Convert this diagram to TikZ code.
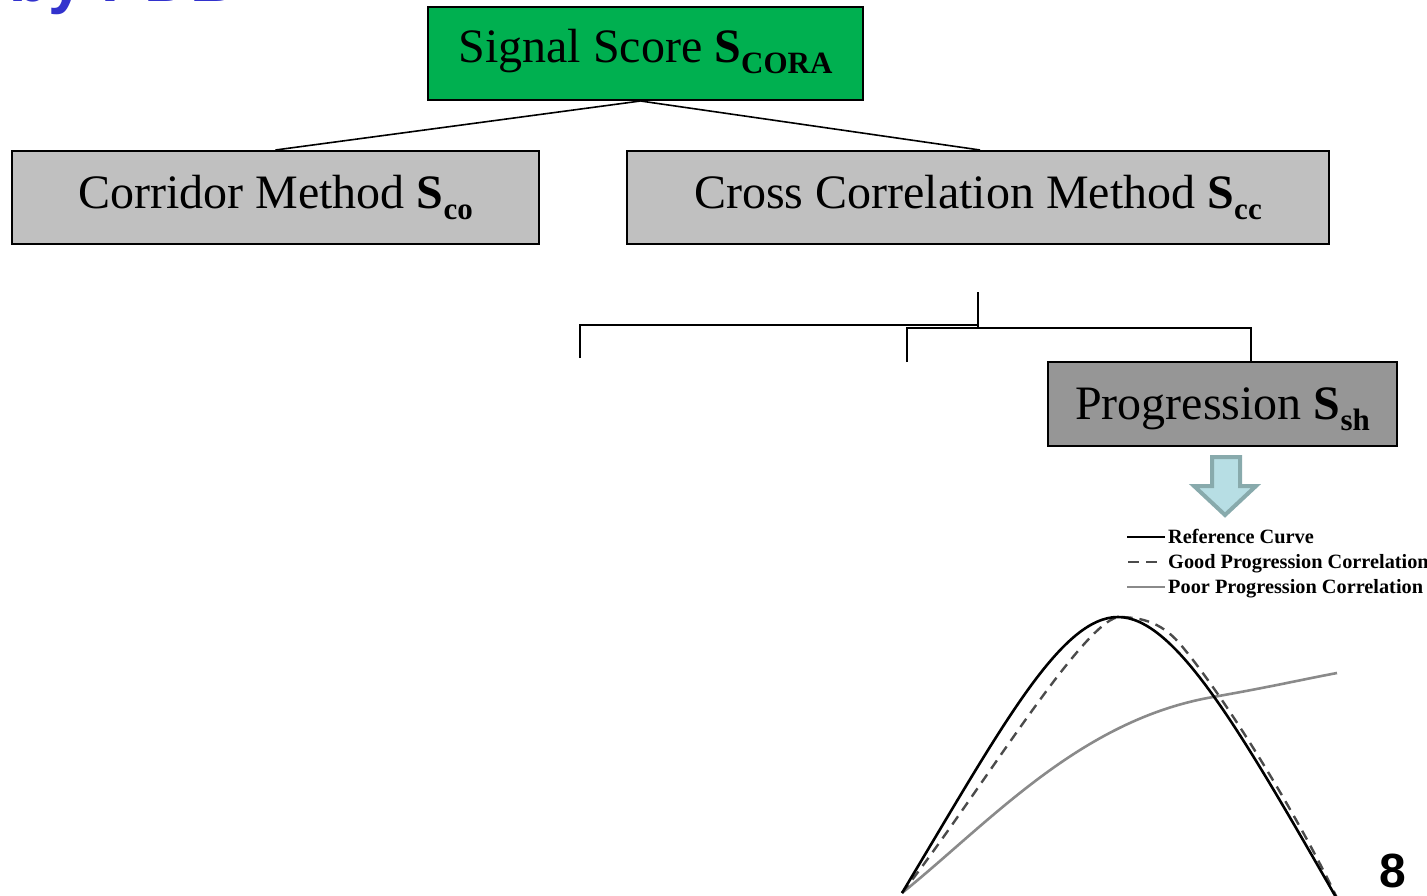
\documentclass[tikz,border=0pt]{standalone}
\usepackage{fontspec}
\setmainfont{Liberation Serif}
\newfontfamily\headfont{Liberation Sans}

\definecolor{scoregreen}{RGB}{0,176,80}
\definecolor{methodgrey}{RGB}{192,192,192}
\definecolor{proggrey}{RGB}{150,150,150}
\definecolor{titleblue}{RGB}{50,50,205}
\definecolor{arrowfill}{RGB}{183,222,228}
\definecolor{arrowedge}{RGB}{136,170,172}
\definecolor{gooddash}{RGB}{75,75,75}
\definecolor{poorgrey}{RGB}{138,138,138}

% bold score symbol with a bold, lowered subscript
\newcommand\scoresub[1]{\textbf{S}\raisebox{-11pt}{\fontsize{31}{31}\selectfont\bfseries #1}}

\begin{document}
\begin{tikzpicture}[x=1pt,y=-1pt,
  box/.style={draw=black, line width=2pt, inner sep=0pt, text depth=12pt,
              font=\fontsize{48}{56}\selectfont},
  link/.style={draw=black, line width=1.6pt},
  tree/.style={draw=black, line width=1.6pt},
  legendtext/.style={anchor=base west, inner sep=0pt, font=\bfseries\fontsize{20.3}{21}\selectfont},
  refcurve/.style={black, line width=2.6pt},
  goodcurve/.style={gooddash, line width=2.4pt, dash pattern=on 10pt off 7pt},
  poorcurve/.style={poorgrey, line width=2.6pt},
  downarrow/.style={draw=arrowedge, fill=arrowfill, line width=4pt, line join=miter}
]
\useasboundingbox (0,0) rectangle (1427,896);
\clip (0,0) rectangle (1427,896);

% heading, mostly above the page edge
\node[anchor=base west, inner sep=0pt, text=titleblue,
      font=\headfont\bfseries\fontsize{64}{64}\selectfont] (title) at (9,2) {by PDB};

% score hierarchy
\node[box, fill=scoregreen, minimum width=435pt, minimum height=93pt, text height=31pt]
  (cora) at (645.5,53.5) {Signal Score \scoresub{CORA}};
\node[box, fill=methodgrey, minimum width=527pt, minimum height=93pt, text height=35pt]
  (corr) at (275.5,197.5) {Corridor Method \scoresub{co}};
\node[box, fill=methodgrey, minimum width=702pt, minimum height=93pt, text height=35pt]
  (cross) at (978,197.5) {Cross Correlation Method \scoresub{cc}};
\node[box, fill=proggrey, minimum width=349pt, minimum height=84pt, text height=42pt]
  (prog) at (1222.5,404) {Progression \scoresub{sh}};

\draw[link] ([xshift=-5pt]cora.south) -- (corr.north);
\draw[link] ([xshift=-5pt]cora.south) -- ([xshift=2pt]cross.north);

% branches below the cross correlation method
\coordinate (stemtop)  at (978,292);
\coordinate (stemfoot) at (978,327);
\coordinate (leftjoin) at (978,325);
\coordinate (leftbend) at (580,325);
\coordinate (leftdrop) at (580,358);
\coordinate (midbend)  at (907,328);
\coordinate (middrop)  at (907,362);
\coordinate (rightbend) at (1251,328);
\coordinate (progin)   at (1251,362);

\draw[tree] (stemtop) -- (stemfoot);
\draw[tree] (leftdrop) -- (leftbend) -- (leftjoin);
\draw[tree] (middrop) -- (midbend) -- (rightbend) -- (progin);

% hollow down arrow
\draw[downarrow] (1212,457) -- (1240,457) -- (1240,486) -- (1256,486)
  -- (1225,515) -- (1194,486) -- (1212,486) -- cycle;

% legend
\coordinate (la1) at (1127,537); \coordinate (lb1) at (1165,537);
\coordinate (la2) at (1128,562); \coordinate (lb2) at (1160,562);
\coordinate (la3) at (1127,587); \coordinate (lb3) at (1165,587);
\draw[black, line width=2.2pt] (la1) -- (lb1);
\draw[gooddash, line width=2.2pt, dash pattern=on 11pt off 7pt] (la2) -- (lb2);
\draw[poorgrey, line width=2.2pt] (la3) -- (lb3);
\node[legendtext] (lt1) at (1168,543.5) {Reference Curve};
\node[legendtext] (lt2) at (1168,568.5) {Good Progression Correlation};
\node[legendtext] (lt3) at (1168,593.5) {Poor Progression Correlation};

% curves
\coordinate (origin) at (902,893);
\draw[poorcurve] (origin) .. controls (990,822) and (1080,720) .. (1213,697)
  .. controls (1270,687) and (1300,680) .. (1337,673);
\draw[goodcurve] (origin) .. controls (975,800) and (1080,625) .. (1118,617)
  .. controls (1150,617) and (1168,628) .. (1185,650)
  .. controls (1230,705) and (1300,820) .. (1337,898);
\draw[refcurve] (origin) .. controls (1000,730) and (1060,617) .. (1118,617)
  .. controls (1175,617) and (1240,730) .. (1337,899);

% page number
\node[anchor=base, inner sep=0pt, font=\headfont\bfseries\fontsize{48}{48}\selectfont]
  (pagenum) at (1393,887) {8};
\end{tikzpicture}
\end{document}
